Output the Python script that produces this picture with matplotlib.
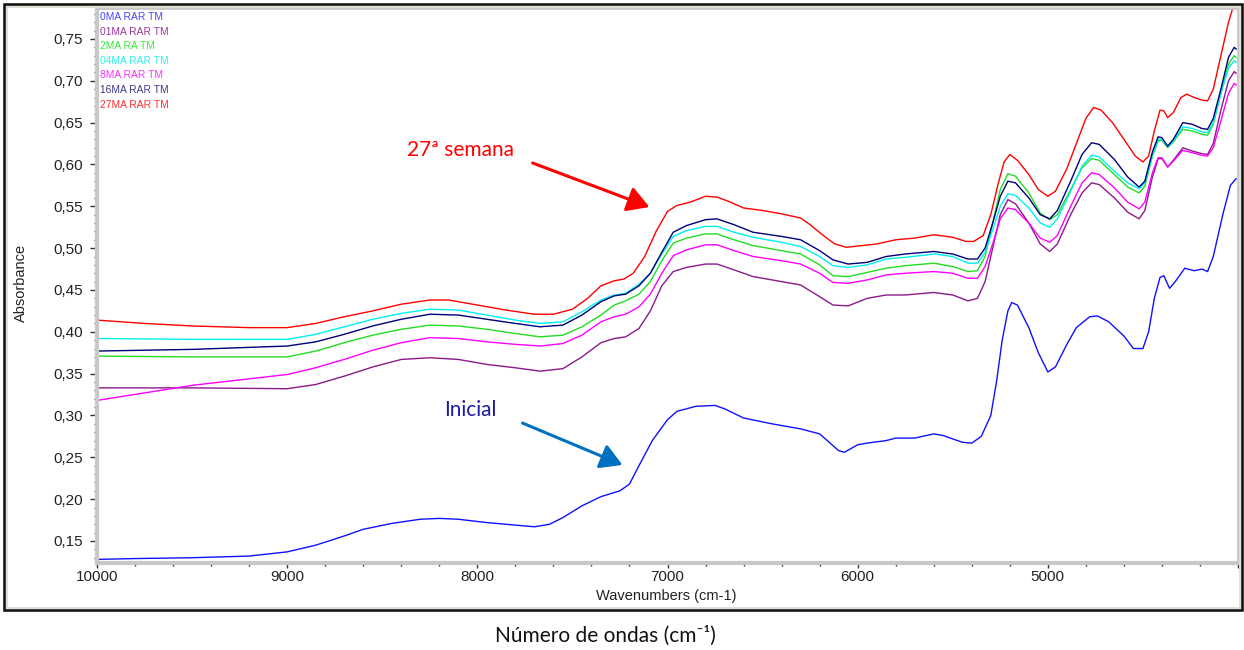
import matplotlib
matplotlib.use("Agg")
import matplotlib.pyplot as plt
from matplotlib.ticker import MultipleLocator, FuncFormatter
from matplotlib.patches import Rectangle, FancyArrowPatch

# ---------------- data ----------------
wn_ini = [10000, 9800, 9500, 9200, 9000, 8850, 8700, 8600, 8450, 8300, 8200, 8100, 7950, 7800, 7700,
          7620, 7550, 7450, 7350, 7250, 7200, 7150, 7080, 7000, 6950, 6850, 6750, 6700, 6600, 6450,
          6300, 6200, 6150, 6100, 6070, 6000, 5950, 5850, 5800, 5700, 5600, 5550, 5450, 5400, 5350,
          5300, 5270, 5240, 5210, 5190, 5160, 5100, 5050, 5000, 4960, 4900, 4850, 4780, 4740, 4680,
          4600, 4550, 4500, 4470, 4440, 4410, 4390, 4360, 4330, 4280, 4230, 4190, 4160, 4130, 4080,
          4040, 4010]
abs_0MA = [0.128, 0.129, 0.130, 0.132, 0.137, 0.145, 0.156, 0.164, 0.171, 0.176, 0.177, 0.176, 0.172, 0.169, 0.167,
           0.170, 0.178, 0.192, 0.203, 0.210, 0.218, 0.240, 0.270, 0.295, 0.305, 0.311, 0.312, 0.308, 0.297, 0.290,
           0.284, 0.278, 0.268, 0.258, 0.256, 0.265, 0.267, 0.270, 0.273, 0.273, 0.278, 0.276, 0.268, 0.267, 0.275,
           0.300, 0.340, 0.390, 0.425, 0.435, 0.432, 0.405, 0.375, 0.352, 0.358, 0.385, 0.405, 0.418, 0.419, 0.412,
           0.395, 0.380, 0.380, 0.400, 0.440, 0.465, 0.467, 0.452, 0.460, 0.476, 0.473, 0.475, 0.472, 0.490, 0.540,
           0.575, 0.583]

wn_27 = [10000, 9750, 9500, 9200, 9000, 8850, 8700, 8550, 8400, 8250, 8150, 8000, 7850, 7700, 7600,
         7500, 7420, 7350, 7280, 7230, 7180, 7120, 7060, 7000, 6950, 6880, 6800, 6740, 6680, 6600,
         6500, 6400, 6300, 6250, 6180, 6120, 6060, 5980, 5900, 5800, 5700, 5600, 5500, 5430, 5390,
         5340, 5300, 5260, 5230, 5200, 5160, 5100, 5050, 5000, 4960, 4900, 4850, 4800, 4760, 4720,
         4660, 4600, 4540, 4500, 4470, 4440, 4410, 4390, 4370, 4340, 4300, 4270, 4230, 4190, 4160,
         4130, 4090, 4050, 4030, 4010]
abs_27MA = [0.414, 0.410, 0.407, 0.405, 0.405, 0.410, 0.418, 0.425, 0.433, 0.438, 0.438, 0.432, 0.426, 0.421, 0.421,
            0.427, 0.440, 0.455, 0.461, 0.463, 0.470, 0.490, 0.520, 0.544, 0.551, 0.555, 0.562, 0.561, 0.556, 0.548,
            0.545, 0.541, 0.536, 0.528, 0.515, 0.505, 0.501, 0.503, 0.505, 0.510, 0.512, 0.516, 0.513, 0.508, 0.508,
            0.515, 0.540, 0.578, 0.603, 0.612, 0.605, 0.588, 0.570, 0.562, 0.568, 0.595, 0.625, 0.655, 0.668, 0.665,
            0.650, 0.630, 0.610, 0.603, 0.610, 0.640, 0.665, 0.664, 0.656, 0.662, 0.680, 0.684, 0.680, 0.677, 0.676,
            0.690, 0.730, 0.770, 0.785, 0.787]

wn_mid = [10000, 9500, 9000, 8850, 8700, 8550, 8400, 8250, 8100, 7950, 7800, 7670, 7550, 7450, 7350,
          7280, 7220, 7150, 7090, 7030, 6970, 6900, 6800, 6740, 6650, 6550, 6400, 6300, 6200, 6130,
          6050, 5950, 5850, 5750, 5600, 5500, 5420, 5370, 5330, 5290, 5250, 5210, 5170, 5100, 5040,
          4990, 4950, 4880, 4820, 4770, 4730, 4650, 4580, 4520, 4490, 4450, 4420, 4400, 4370, 4340,
          4290, 4240, 4190, 4160, 4130, 4090, 4050, 4020, 4010]
abs_16MA = [0.377, 0.379, 0.383, 0.388, 0.397, 0.407, 0.415, 0.421, 0.420, 0.415, 0.410, 0.406, 0.408, 0.420, 0.436,
            0.443, 0.445, 0.455, 0.470, 0.495, 0.519, 0.527, 0.534, 0.535, 0.528, 0.519, 0.514, 0.510, 0.497, 0.486,
            0.481, 0.483, 0.490, 0.493, 0.496, 0.493, 0.487, 0.487, 0.500, 0.530, 0.562, 0.580, 0.578, 0.560, 0.540,
            0.535, 0.545, 0.580, 0.612, 0.626, 0.624, 0.606, 0.585, 0.573, 0.580, 0.615, 0.633, 0.632, 0.622, 0.630,
            0.650, 0.648, 0.643, 0.642, 0.655, 0.690, 0.728, 0.740, 0.738]
abs_04MA = [0.392, 0.391, 0.391, 0.397, 0.406, 0.415, 0.422, 0.427, 0.426, 0.420, 0.414, 0.410, 0.412, 0.424, 0.438,
            0.444, 0.446, 0.457, 0.470, 0.493, 0.514, 0.521, 0.526, 0.526, 0.519, 0.513, 0.507, 0.502, 0.490, 0.479,
            0.477, 0.480, 0.487, 0.489, 0.493, 0.490, 0.482, 0.482, 0.495, 0.522, 0.550, 0.565, 0.563, 0.548, 0.530,
            0.525, 0.535, 0.568, 0.598, 0.611, 0.609, 0.592, 0.578, 0.571, 0.578, 0.612, 0.630, 0.630, 0.621, 0.628,
            0.645, 0.643, 0.639, 0.638, 0.650, 0.685, 0.715, 0.724, 0.722]
abs_2MA = [0.371, 0.370, 0.370, 0.377, 0.387, 0.396, 0.403, 0.408, 0.407, 0.403, 0.398, 0.394, 0.396, 0.406, 0.420,
           0.432, 0.437, 0.445, 0.460, 0.485, 0.506, 0.512, 0.517, 0.517, 0.510, 0.503, 0.497, 0.493, 0.480, 0.467,
           0.466, 0.471, 0.476, 0.479, 0.482, 0.478, 0.472, 0.473, 0.490, 0.530, 0.570, 0.589, 0.586, 0.566, 0.542,
           0.534, 0.540, 0.570, 0.596, 0.607, 0.605, 0.588, 0.573, 0.566, 0.574, 0.610, 0.628, 0.629, 0.620, 0.627,
           0.642, 0.640, 0.636, 0.635, 0.648, 0.685, 0.720, 0.730, 0.728]
abs_8MA = [0.318, 0.336, 0.349, 0.357, 0.367, 0.378, 0.387, 0.393, 0.392, 0.388, 0.385, 0.383, 0.386, 0.396, 0.412,
           0.418, 0.421, 0.430, 0.445, 0.470, 0.491, 0.498, 0.504, 0.504, 0.497, 0.490, 0.485, 0.481, 0.470, 0.459,
           0.458, 0.462, 0.468, 0.470, 0.472, 0.470, 0.464, 0.464, 0.478, 0.505, 0.535, 0.548, 0.546, 0.530, 0.512,
           0.507, 0.515, 0.550, 0.578, 0.590, 0.588, 0.572, 0.555, 0.547, 0.555, 0.590, 0.608, 0.608, 0.597, 0.604,
           0.617, 0.614, 0.611, 0.610, 0.620, 0.652, 0.685, 0.697, 0.695]
abs_01MA = [0.333, 0.333, 0.332, 0.337, 0.347, 0.358, 0.367, 0.369, 0.367, 0.361, 0.357, 0.353, 0.356, 0.370, 0.387,
            0.392, 0.394, 0.404, 0.425, 0.455, 0.472, 0.477, 0.481, 0.481, 0.474, 0.466, 0.460, 0.456, 0.442, 0.432,
            0.431, 0.440, 0.444, 0.444, 0.447, 0.444, 0.437, 0.440, 0.460, 0.500, 0.540, 0.558, 0.553, 0.530, 0.505,
            0.496, 0.505, 0.540, 0.566, 0.578, 0.576, 0.560, 0.543, 0.535, 0.545, 0.585, 0.607, 0.607, 0.597, 0.605,
            0.620, 0.616, 0.613, 0.612, 0.625, 0.665, 0.700, 0.711, 0.709]

series_names = ["0MA RAR TM", "01MA RAR TM", "2MA RA TM", "04MA RAR TM", "8MA RAR TM", "16MA RAR TM", "27MA RAR TM"]
series_colors = ["#1010ff", "#8a1a8a", "#22dd22", "#00f0f0", "#ff00ff", "#00007a", "#ff0000"]
label_colors = ["#4848ff", "#9a3a9a", "#33ee33", "#33eeee", "#ff33ff", "#3a3a8a", "#ff3030"]
series_x = [wn_ini, wn_mid, wn_mid, wn_mid, wn_mid, wn_mid, wn_27]
series_y = [abs_0MA, abs_01MA, abs_2MA, abs_04MA, abs_8MA, abs_16MA, abs_27MA]

# ---------------- figure ----------------
fig = plt.figure(figsize=(12.44, 6.5), dpi=100)
fig.patch.set_facecolor("white")

W, H = 1244, 650
def fx(px):
    return px / W
def fy(py):
    return 1 - py / H

ax = fig.add_axes([fx(97), fy(563), fx(1238) - fx(97), fy(8) - fy(563)])
for xs, ys, c in zip(series_x, series_y, series_colors):
    ax.plot(xs, ys, color=c, lw=1.0)

ax.set_xlim(10000, 4000)
ax.set_ylim(0.1237, 0.787)
ax.xaxis.set_major_locator(MultipleLocator(1000))
ax.xaxis.set_minor_locator(MultipleLocator(200))
ax.yaxis.set_major_locator(MultipleLocator(0.05))
ax.yaxis.set_minor_locator(MultipleLocator(0.01))
ax.yaxis.set_major_formatter(FuncFormatter(lambda v, p: f"{v:.2f}".replace(".", ",")))
ax.xaxis.set_major_formatter(FuncFormatter(lambda v, p: "" if v < 4500 else f"{v:.0f}"))

for lab in ax.get_xticklabels() + ax.get_yticklabels():
    lab.set_fontfamily("Liberation Sans")
    lab.set_fontsize(11)
    lab.set_color("#222222")
ax.tick_params(axis="both", which="major", direction="out", length=5, width=1, color="#333333", pad=5)
ax.tick_params(axis="both", which="minor", direction="out", length=2.5, width=1, color="#333333")
ax.tick_params(axis="x", which="major", length=3.5, pad=1.5)
ax.tick_params(axis="x", which="minor", length=2)
for side in ["left", "bottom"]:
    ax.spines[side].set_color("#c8c8c8")
    ax.spines[side].set_linewidth(3)
for side in ["top", "right"]:
    ax.spines[side].set_color("#c8c8c8")
    ax.spines[side].set_linewidth(2)

# axis titles placed as figure text
fig.text(fx(666), fy(596), "Wavenumbers (cm-1)", fontfamily="Liberation Sans", fontsize=10.5,
         color="#222222", ha="center", va="center")
fig.text(fx(21), fy(283), "Absorbance", fontfamily="Liberation Sans", fontsize=10.5,
         color="#222222", ha="center", va="center", rotation=90)

# legend-like labels
for i, (name, lc) in enumerate(zip(series_names, label_colors)):
    fig.text(fx(100), fy(17 + i * 14.6), name, color=lc, fontsize=7.4,
             fontfamily="Liberation Sans", ha="left", va="center")

# annotations
fig.text(fx(460), fy(150), "27ª semana", color="#ff0000", fontsize=15,
         fontfamily="Lato", ha="center", va="center")
fig.text(fx(470), fy(410), "Inicial", color="#1c1ca8", fontsize=15,
         fontfamily="Lato", ha="center", va="center")

arr1 = FancyArrowPatch((fx(530), fy(162)), (fx(652), fy(208)), transform=fig.transFigure,
                       arrowstyle="-|>,head_length=6,head_width=3.5", color="#ff0000", lw=2.2,
                       mutation_scale=2.2)
fig.patches.append(arr1)
arr2 = FancyArrowPatch((fx(520), fy(422)), (fx(625), fy(466)), transform=fig.transFigure,
                       arrowstyle="-|>,head_length=6,head_width=3.5", color="#0070c0", lw=2.2,
                       mutation_scale=2.2)
fig.patches.append(arr2)

# outer frame
fig.patches.append(Rectangle((fx(5), fy(609)), fx(1241) - fx(5), fy(5) - fy(609),
                             transform=fig.transFigure, fill=False, edgecolor="#e0ddd4", lw=3.5))
fig.patches.append(Rectangle((fx(4), fy(610)), fx(1242) - fx(4), fy(4) - fy(610),
                             transform=fig.transFigure, fill=False, edgecolor="#111111", lw=1.8))

fig.text(fx(605), fy(636), "Número de ondas (cm⁻¹)", fontsize=15,
         fontfamily=["Lato", "DejaVu Sans"], ha="center", va="center", color="#111111")

fig.savefig("out.png", dpi=100)
